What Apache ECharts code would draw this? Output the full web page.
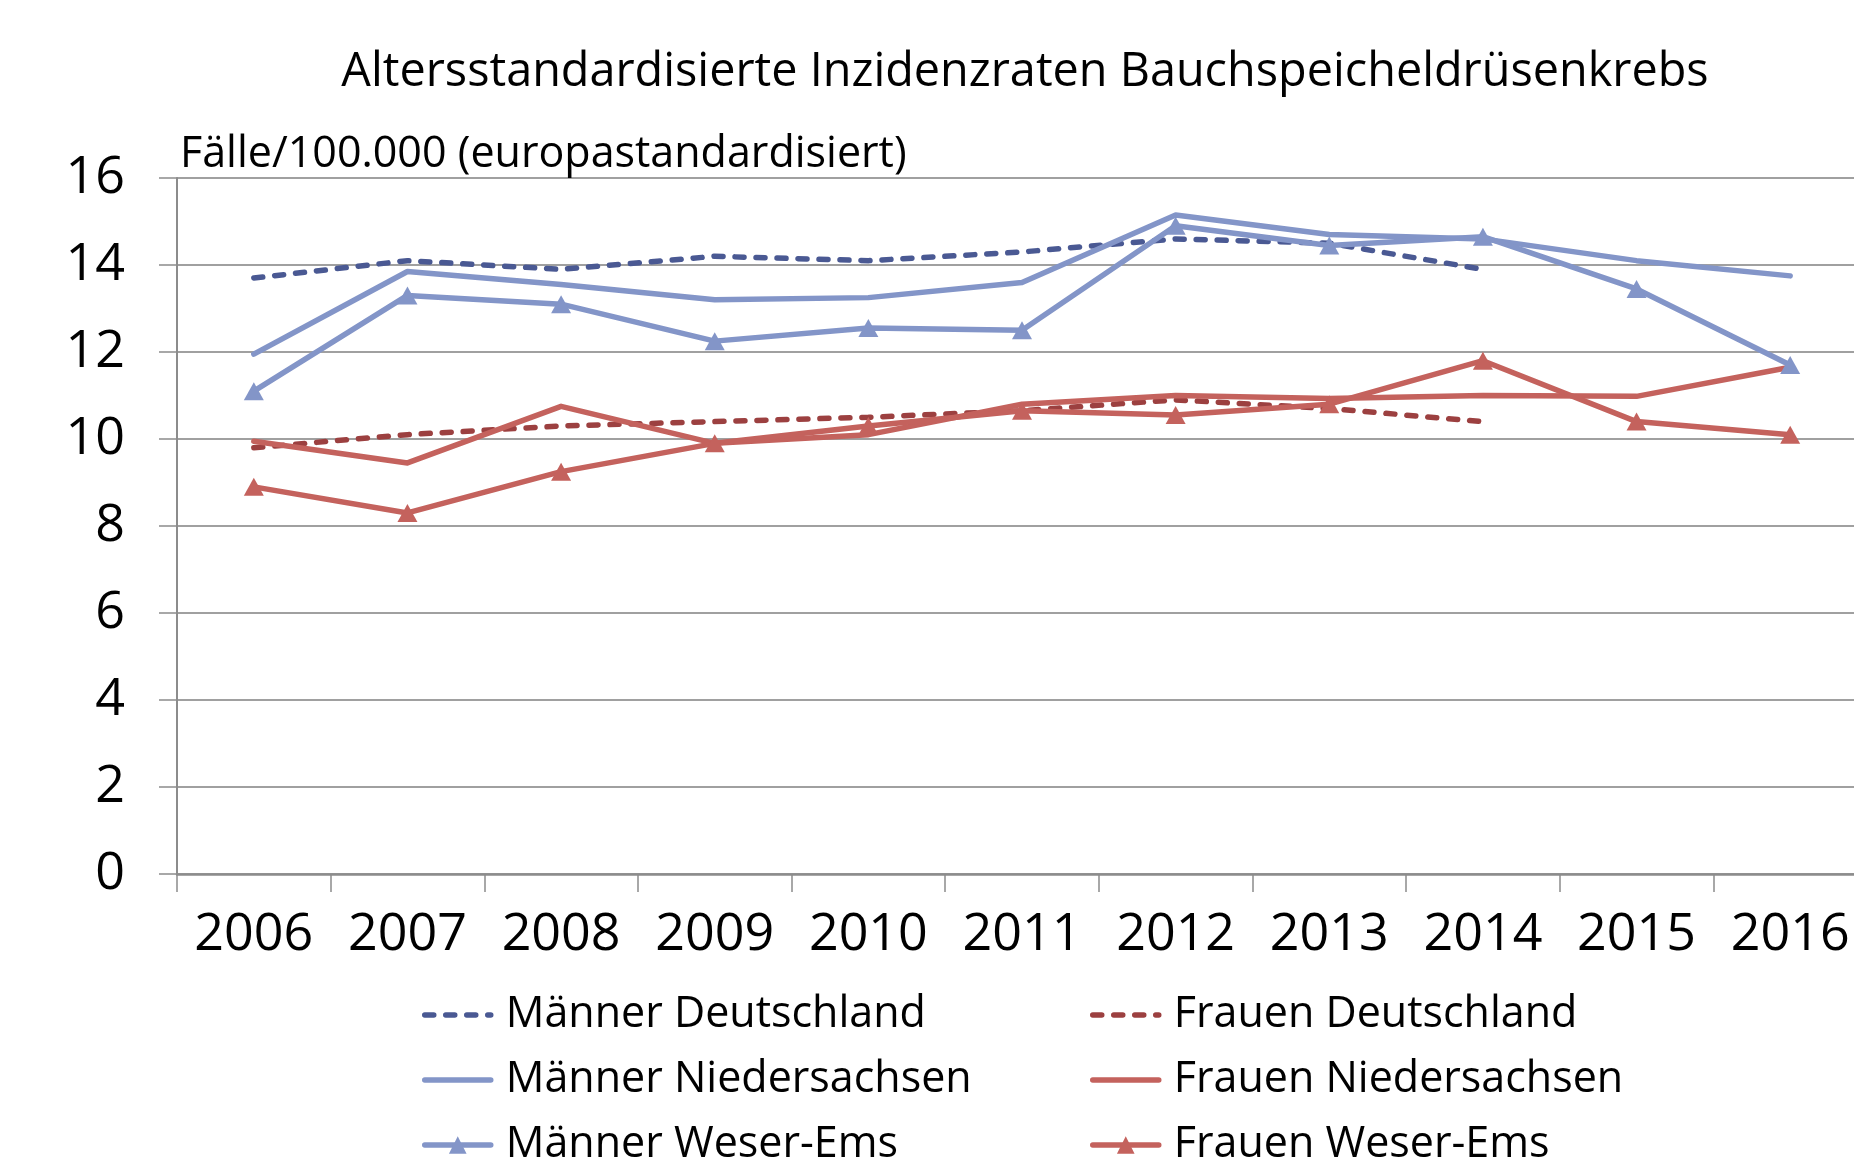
<!DOCTYPE html>
<html>
<head>
<meta charset="utf-8">
<style>
    html, body { margin: 0; padding: 0; background: #fff; }
    .chart { width: 1854px; height: 1164px; }
</style>
<script src="https://cdn.jsdelivr.net/npm/echarts@6/dist/echarts.min.js"></script>
</head>
<body>
<div class="chart"></div>
<script>
var years = ['2006', '2007', '2008', '2009', '2010', '2011', '2012', '2013', '2014', '2015', '2016'];
var maennerDeutschland = [13.7, 14.1, 13.9, 14.2, 14.1, 14.3, 14.6, 14.5, 13.9, null, null];
var maennerNiedersachsen = [11.95, 13.85, 13.55, 13.2, 13.25, 13.6, 15.15, 14.7, 14.6, 14.1, 13.75];
var maennerWeserEms = [11.1, 13.3, 13.1, 12.25, 12.55, 12.5, 14.9, 14.45, 14.65, 13.45, 11.7];
var frauenDeutschland = [9.8, 10.1, 10.3, 10.4, 10.5, 10.65, 10.9, 10.7, 10.4, null, null];
var frauenNiedersachsen = [9.95, 9.45, 10.75, 9.9, 10.1, 10.8, 11.0, 10.93, 11.0, 10.98, 11.65];
var frauenWeserEms = [8.9, 8.3, 9.25, 9.9, 10.3, 10.65, 10.55, 10.8, 11.8, 10.4, 10.1];

(function () {
    var font = 'Open Sans';
    var dunkelBlau = '#4a5993';
    var hellBlau = '#8395c8';
    var dunkelRot = '#9c4040';
    var rot = '#c4625d';

    function dashed(color) {
        return { color: color, width: 5.5, type: [9, 12], cap: 'round' };
    }
    function solid(color) {
        return { color: color, width: 5.5, cap: 'round', join: 'round' };
    }
    // Linien ohne Marker: Symbol in der Legende ausblenden
    function ohneSymbol(name) {
        return { name: name, itemStyle: { opacity: 0 } };
    }

    var myChart = echarts.init(document.querySelector('.chart'));
    var legendText = {
        fontFamily: font,
        fontSize: 43,
        color: '#000',
        lineHeight: 46,
        padding: [0, 0, 0, 10]
    };
    var legendBase = {
        orient: 'vertical',
        top: 992,
        height: 180,
        itemWidth: 66,
        itemHeight: 22,
        itemGap: 19,
        padding: 0,
        lineStyle: { width: 5.5, cap: 'round' },
        textStyle: legendText
    };
    var option = {
        animation: false,
        title: [
            {
                text: 'Altersstandardisierte Inzidenzraten Bauchspeicheldrüsenkrebs',
                left: 1020,
                top: 44,
                textAlign: 'center',
                textStyle: { fontFamily: font, fontSize: 46.8, fontWeight: 'normal', color: '#000' }
            },
            {
                text: 'Fälle/100.000 (europastandardisiert)',
                left: 175,
                top: 128,
                textStyle: { fontFamily: font, fontSize: 43, fontWeight: 'normal', color: '#000' }
            }
        ],
        legend: [
            Object.assign({}, legendBase, {
                left: 422,
                data: [ohneSymbol('Männer Deutschland'), ohneSymbol('Männer Niedersachsen'), 'Männer Weser-Ems']
            }),
            Object.assign({}, legendBase, {
                left: 1090,
                data: [ohneSymbol('Frauen Deutschland'), ohneSymbol('Frauen Niedersachsen'), 'Frauen Weser-Ems']
            })
        ],
        grid: {
            left: 177,
            right: -13,
            top: 178,
            bottom: 290,
            outerBoundsMode: 'none'
        },
        xAxis: {
            type: 'category',
            data: years,
            boundaryGap: true,
            axisLine: { lineStyle: { color: '#8c8c8c', width: 2.5 } },
            axisTick: { show: true, interval: 0, length: 18, lineStyle: { color: '#8c8c8c', width: 1.5 } },
            axisLabel: { interval: 0, fontFamily: font, fontSize: 52, color: '#000', margin: 35 }
        },
        yAxis: {
            type: 'value',
            min: 0,
            max: 16,
            interval: 2,
            axisLine: { show: true, lineStyle: { color: '#8c8c8c', width: 2 } },
            axisTick: { show: true, length: 18, lineStyle: { color: '#8c8c8c', width: 1.5 } },
            axisLabel: { fontFamily: font, fontSize: 52, color: '#000', margin: 52 },
            splitLine: { lineStyle: { color: '#a0a0a0', width: 2 } }
        },
        series: [
            {
                name: 'Männer Deutschland',
                type: 'line',
                data: maennerDeutschland,
                symbol: 'none',
                color: dunkelBlau,
                lineStyle: dashed(dunkelBlau)
            },
            {
                name: 'Frauen Deutschland',
                type: 'line',
                data: frauenDeutschland,
                symbol: 'none',
                color: dunkelRot,
                lineStyle: dashed(dunkelRot)
            },
            {
                name: 'Männer Niedersachsen',
                type: 'line',
                data: maennerNiedersachsen,
                symbol: 'none',
                color: hellBlau,
                lineStyle: solid(hellBlau)
            },
            {
                name: 'Frauen Niedersachsen',
                type: 'line',
                data: frauenNiedersachsen,
                symbol: 'none',
                color: rot,
                lineStyle: solid(rot)
            },
            {
                name: 'Männer Weser-Ems',
                type: 'line',
                data: maennerWeserEms,
                symbol: 'triangle',
                symbolSize: [20, 18],
                color: hellBlau,
                itemStyle: { color: hellBlau },
                lineStyle: solid(hellBlau)
            },
            {
                name: 'Frauen Weser-Ems',
                type: 'line',
                data: frauenWeserEms,
                symbol: 'triangle',
                symbolSize: [20, 18],
                color: rot,
                itemStyle: { color: rot },
                lineStyle: solid(rot)
            }
        ]
    };
    myChart.setOption(option);
    window.addEventListener('resize', function () {
        myChart.resize();
    });
})();
</script>
</body>
</html>
